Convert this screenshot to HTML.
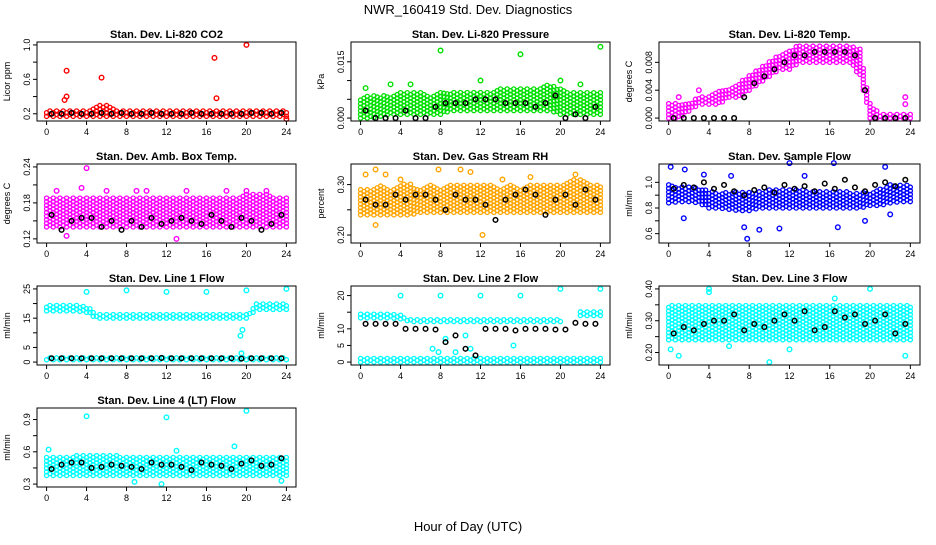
<!DOCTYPE html>
<html><head><meta charset="utf-8"><style>
body{margin:0;background:#fff;}
svg{font-family:"Liberation Sans",Arial,sans-serif;}
</style></head><body>
<svg id="chart" width="936" height="540" viewBox="0 0 936 540">
<text x="468" y="14" text-anchor="middle" font-size="13">NWR_160419  Std. Dev. Diagnostics</text>
<text x="468" y="531" text-anchor="middle" font-size="13">Hour of Day (UTC)</text>
</svg>
<script>
const hours=[0,1,2,3,4,5,6,7,8,9,10,11,12,13,14,15,16,17,18,19,20,21,22,23,24];
const xTicks=[0,4,8,12,16,20,24];
const titles=["Stan. Dev. Li-820 CO2","Stan. Dev. Li-820 Pressure","Stan. Dev. Li-820 Temp.","Stan. Dev. Amb. Box Temp.","Stan. Dev. Gas Stream RH","Stan. Dev. Sample Flow","Stan. Dev. Line 1 Flow","Stan. Dev. Line 2 Flow","Stan. Dev. Line 3 Flow","Stan. Dev. Line 4 (LT) Flow"];
const yLabels=["Licor ppm","kPa","degrees C","degrees C","percent","ml/min","ml/min","ml/min","ml/min","ml/min"];
const colors=["#ff0000","#00e000","#ff00ff","#ff00ff","#ffa500","#0000ff","#00ffff","#00ffff","#00ffff","#00ffff"];
const yRanges=[[0.15,1.0],[0,0.0195],[0,0.0105],[0.118,0.24],[0.19,0.335],[0.55,1.12],[0,25],[0,22],[0.17,0.40],[0.3,0.98]];
const yTicks=[[0.2,0.4,0.6,0.8,1.0],[0,0.005,0.010,0.015],[0,0.004,0.008],[0.12,0.15,0.18,0.21,0.24],[0.20,0.25,0.30],[0.6,0.7,0.8,0.9,1.0],[0,5,10,15,20,25],[0,5,10,15,20],[0.20,0.25,0.30,0.35,0.40],[0.3,0.45,0.6,0.75,0.9]];
const yTickText=[["0.2","","0.6","","1.0"],["0.000","","","0.015"],["0.000","0.004","0.008"],["0.12","","0.18","","0.24"],["0.20","","0.30"],["0.6","","0.8","","1.0"],["0","5","","15","","25"],["0","5","10","","20"],["0.20","","0.30","","0.40"],["0.3","","0.6","","0.9"]];
const bandLow=[
[0.17,0.17,0.17,0.17,0.17,0.17,0.17,0.17,0.17,0.17,0.17,0.17,0.17,0.17,0.17,0.17,0.17,0.17,0.17,0.17,0.17,0.17,0.17,0.17,0.17],
[0,0,0.0005,0.001,0.001,0.001,0.001,0.001,0.001,0.002,0.002,0.002,0.002,0.002,0.002,0.002,0.002,0.002,0.002,0.002,0.001,0.001,0.001,0.001,0.001],
[0,0,0.001,0.002,0.002,0.002,0.003,0.003,0.004,0.005,0.006,0.007,0.007,0.008,0.008,0.008,0.008,0.008,0.008,0.006,0,0,0,0,0],
[0.14,0.14,0.14,0.14,0.14,0.14,0.14,0.14,0.14,0.14,0.14,0.14,0.14,0.14,0.14,0.14,0.14,0.14,0.14,0.14,0.14,0.14,0.14,0.14,0.14],
[0.24,0.24,0.24,0.24,0.24,0.24,0.245,0.245,0.245,0.245,0.245,0.245,0.245,0.245,0.245,0.245,0.245,0.245,0.245,0.245,0.245,0.245,0.245,0.245,0.245],
[0.84,0.85,0.85,0.84,0.8,0.8,0.79,0.78,0.78,0.8,0.8,0.8,0.8,0.8,0.8,0.8,0.8,0.8,0.8,0.8,0.82,0.82,0.84,0.85,0.85],
[17.5,17.5,17.5,17.5,17,15,15,15,15,15,15,15,15,15,15,15,15,15,15,15,15,18,18,18,18],
[13.3,13.3,13.3,13.3,13,12.2,12.2,12.2,12.2,12.2,12.2,12.2,12.2,12.2,12.2,12.2,12.2,12.2,12.2,12.2,12.2,14,14,14,14],
[0.24,0.24,0.24,0.24,0.24,0.24,0.24,0.24,0.24,0.24,0.24,0.24,0.24,0.24,0.24,0.24,0.24,0.24,0.24,0.24,0.24,0.24,0.24,0.24,0.24],
[0.38,0.38,0.38,0.38,0.38,0.38,0.38,0.38,0.38,0.38,0.38,0.38,0.38,0.38,0.38,0.38,0.38,0.38,0.38,0.38,0.38,0.38,0.38,0.38,0.38]];
const bandHigh=[
[0.23,0.23,0.24,0.24,0.24,0.27,0.33,0.25,0.23,0.23,0.23,0.23,0.23,0.23,0.23,0.23,0.23,0.23,0.23,0.23,0.23,0.23,0.23,0.23,0.23],
[0.005,0.006,0.006,0.006,0.007,0.007,0.007,0.006,0.007,0.007,0.007,0.007,0.007,0.007,0.008,0.008,0.008,0.008,0.008,0.009,0.008,0.007,0.007,0.007,0.007],
[0.002,0.002,0.002,0.003,0.003,0.004,0.004,0.005,0.006,0.007,0.008,0.009,0.01,0.0103,0.0103,0.0103,0.0103,0.0103,0.0103,0.01,0.002,0.0005,0.0005,0.0005,0.0005],
[0.19,0.19,0.19,0.19,0.19,0.19,0.19,0.19,0.19,0.19,0.19,0.19,0.19,0.19,0.19,0.19,0.19,0.19,0.19,0.19,0.195,0.195,0.195,0.19,0.19],
[0.29,0.29,0.3,0.29,0.3,0.3,0.29,0.3,0.29,0.3,0.3,0.3,0.3,0.3,0.29,0.3,0.29,0.3,0.3,0.3,0.3,0.31,0.31,0.3,0.3],
[0.98,0.97,0.96,0.96,0.93,0.92,0.92,0.92,0.92,0.93,0.94,0.94,0.94,0.94,0.93,0.93,0.93,0.93,0.92,0.92,0.92,0.95,0.98,0.98,0.98],
[19.5,19.5,19.5,19.5,19,16.5,16.5,16.5,16.5,16.5,16.5,16.5,16.5,16.5,16.5,16.5,16.5,16.5,16.5,16.5,16.5,20,20,20,20],
[14.5,14.5,14.5,14.5,14,13,13,13,13,13,13,13,13,13,13,13,13,13,13,13,13,13,15,15,15],
[0.35,0.35,0.35,0.35,0.35,0.35,0.35,0.35,0.35,0.35,0.35,0.35,0.35,0.35,0.35,0.35,0.35,0.35,0.35,0.35,0.35,0.35,0.35,0.35,0.35],
[0.55,0.55,0.55,0.56,0.56,0.57,0.57,0.56,0.55,0.55,0.55,0.55,0.55,0.55,0.55,0.55,0.55,0.55,0.55,0.55,0.55,0.55,0.55,0.55,0.55]];
// secondary clusters (only Line 1, Line 2)
const band2Low=[null,null,null,null,null,null,
[0.8,0.8,0.8,0.8,0.8,0.8,0.8,0.8,0.8,0.8,0.8,0.8,0.8,0.8,0.8,0.8,0.8,0.8,0.8,0.8,0.8,0.8,0.8,0.8,0.8],
[0,0,0,0,0,0,0,0,0,0,0,0,0,0,0,0,0,0,0,0,0,0,0,0,0],null,null];
const band2High=[null,null,null,null,null,null,
[1.6,1.6,1.6,1.6,1.6,1.6,1.6,1.6,1.6,1.6,1.6,1.6,1.6,1.6,1.6,1.6,1.6,1.6,1.6,1.6,1.6,1.6,1.6,1.6,1.6],
[1.3,1.3,1.3,1.3,1.3,1.3,1.3,1.3,1.3,1.3,1.3,1.3,1.3,1.3,1.3,1.3,1.3,1.3,1.3,1.3,1.3,1.3,1.3,1.3,1.3],null,null];
const blackVals=[
[0.2,0.2,0.21,0.2,0.2,0.21,0.2,0.21,0.2,0.2,0.21,0.2,0.2,0.2,0.21,0.2,0.2,0.2,0.2,0.2,0.21,0.21,0.2,0.21],
[0.002,0,0,0,0.002,0,0,0.003,0.004,0.004,0.004,0.005,0.005,0.005,0.004,0.004,0.004,0.003,0.004,0.006,0,0.001,0,0.003],
[0,0,0,0,0,0,0,0.003,0.005,0.006,0.007,0.008,0.009,0.009,0.0095,0.0095,0.0095,0.0095,0.009,0.004,0,0,0,0],
[0.16,0.135,0.15,0.155,0.155,0.14,0.15,0.135,0.15,0.14,0.155,0.145,0.15,0.155,0.15,0.145,0.16,0.15,0.14,0.155,0.15,0.135,0.145,0.16],
[0.27,0.26,0.26,0.28,0.27,0.28,0.28,0.27,0.25,0.28,0.27,0.27,0.26,0.23,0.27,0.28,0.29,0.28,0.24,0.27,0.28,0.26,0.29,0.27],
[0.95,0.98,0.96,1.0,0.95,0.98,0.93,0.9,0.94,0.96,0.92,0.98,0.95,0.97,0.93,0.99,0.95,1.02,0.96,0.93,0.98,1.0,0.97,1.02],
[1.3,1.3,1.3,1.3,1.3,1.3,1.3,1.3,1.3,1.3,1.3,1.4,1.3,1.3,1.3,1.3,1.3,1.3,1.3,1.2,1.3,1.3,1.3,1.3],
[11.5,11.5,11.5,11.5,10,10,10,9.8,6,8,4,2,10,10,10,9.5,10,10,10,9.8,9.8,11.8,11.5,11.5],
[0.26,0.28,0.27,0.29,0.3,0.3,0.32,0.27,0.29,0.28,0.3,0.32,0.3,0.33,0.27,0.28,0.33,0.31,0.32,0.29,0.3,0.32,0.26,0.29],
[0.44,0.48,0.5,0.5,0.45,0.46,0.48,0.47,0.46,0.44,0.5,0.48,0.48,0.46,0.43,0.5,0.48,0.47,0.44,0.49,0.52,0.47,0.48,0.54]];
const outX=[[2,2,5.5,16.8,17,20,1.8,24],[8,16,24,0.5,3,5,12,20,22],[23.5,23.5,1,3],[4,1,3.5,6,9,10,14,18,20,22,2,13],[0.5,1.5,2.5,4,7.8,10,11,14.2,17,21.5,1.5,12.2],[0.2,1.6,3.5,6.2,7.5,7.8,9,11,12,13.5,16.4,16.8,19.5,21.5,1.5,22],[4,8,12,16,20,24,19.5,19.4,19.6],[4,8,12,16,20,24,7.2,7.8,9.5,10.5,11,15.3,8.5],[4,0.2,1,4,6,12,16.5,20,23.5,10],[4,12,20,0.2,8.8,11.5,18.8,23.5,13]];
const outY=[[0.7,0.4,0.62,0.85,0.38,1.0,0.36,0.14],[0.018,0.017,0.019,0.008,0.009,0.009,0.01,0.01,0.009],[0.003,0.002,0.003,0.004],[0.238,0.2,0.205,0.2,0.2,0.2,0.2,0.2,0.2,0.2,0.125,0.12],[0.32,0.33,0.32,0.31,0.33,0.33,0.325,0.31,0.315,0.32,0.22,0.2],[1.12,1.1,1.06,1.05,0.65,0.56,0.63,0.64,1.15,1.05,1.15,0.65,0.7,1.12,0.72,0.75],[24,24.5,24,24,24.5,25,3,9,11],[20,20,20,20,22,22,4,3,3,8,4,5,7],[0.4,0.21,0.19,0.39,0.22,0.21,0.37,0.4,0.19,0.17],[0.93,0.92,0.98,0.62,0.32,0.3,0.65,0.33,0.61]];

const NS="http://www.w3.org/2000/svg";
const svg=document.getElementById('chart');
const colX=[[37,296],[351,610],[659,920]];
const rowY=[[42,121],[164,243],[286,365],[408,487]];
function mk(tag,attrs,parent){const e=document.createElementNS(NS,tag);for(const k in attrs)e.setAttribute(k,attrs[k]);(parent||svg).appendChild(e);return e;}
function interp(arr,x){const i=Math.min(23,Math.floor(x));const f=x-i;return arr[i]*(1-f)+arr[i+1]*f;}
function drawCloud(g,lo,hi,xs,ys,col){
  let k=0;
  for(let x=0;x<=24.001;x+=0.3333,k++){
    const yl=ys(interp(lo,x)),yh=ys(interp(hi,x));
    const off=(k%2)*1.8;
    for(let py=yl-off;py>=yh-0.5;py-=3.6){
      const cc=mk('circle',{cx:xs(x),cy:py,r:2.1,fill:'none',stroke:col,'stroke-width':1.3},g);
      
      
    }
  }
}
for(let p=0;p<10;p++){
  const c=p%3,r=Math.floor(p/3);
  const [bx0,bx1]=colX[c],[by0,by1]=rowY[r];
  const g=mk('g',{});
  
  
  const [ymin,ymax]=yRanges[p];
  const dy=(ymax-ymin)*0.04;
  const xs=v=>bx0+(v+0.96)/25.92*(bx1-bx0);
  const ys=v=>by1-(v-(ymin-dy))/((ymax-ymin)+2*dy)*(by1-by0);
  const t=mk('text',{x:(bx0+bx1)/2,y:by0-4,'text-anchor':'middle','font-size':'11','font-weight':'bold'},g);
  t.textContent=titles[p];
  
  
  drawCloud(g,bandLow[p],bandHigh[p],xs,ys,colors[p]);
  if(band2Low[p]) drawCloud(g,band2Low[p],band2High[p],xs,ys,colors[p]);
  outX[p].forEach((x,i)=>{
    const cc=mk('circle',{cx:xs(x),cy:ys(outY[p][i]),r:2.3,fill:'none',stroke:colors[p],'stroke-width':1.4},g);
    
    
  });
  blackVals[p].forEach((v,i)=>{
    const cc=mk('circle',{cx:xs(i+0.5),cy:ys(v),r:2.3,fill:'none',stroke:'#000','stroke-width':1.5},g);
    
    
  });
  const box=mk('rect',{x:bx0,y:by0,width:bx1-bx0,height:by1-by0,fill:'none',stroke:'#000','stroke-width':1},g);
  
  
  xTicks.forEach(v=>{
    mk('line',{x1:xs(v),x2:xs(v),y1:by1,y2:by1+4,stroke:'#000'},g);
    const tx=mk('text',{x:xs(v),y:by1+14,'text-anchor':'middle','font-size':'9'},g);
    tx.textContent=v;
    
    
  });
  yTicks[p].forEach((v,i)=>{
    mk('line',{x1:bx0-4,x2:bx0,y1:ys(v),y2:ys(v),stroke:'#000'},g);
    const tx=mk('text',{x:bx0-7,y:ys(v),'text-anchor':'middle','font-size':'9',transform:`rotate(-90 ${bx0-7} ${ys(v)})`},g);
    tx.textContent=yTickText[p][i];
    
    
  });
  const yl=mk('text',{x:bx0-27,y:(by0+by1)/2,'text-anchor':'middle','font-size':'9',transform:`rotate(-90 ${bx0-27} ${(by0+by1)/2})`},g);
  yl.textContent=yLabels[p];
  
  
}
</script>
</body></html>
